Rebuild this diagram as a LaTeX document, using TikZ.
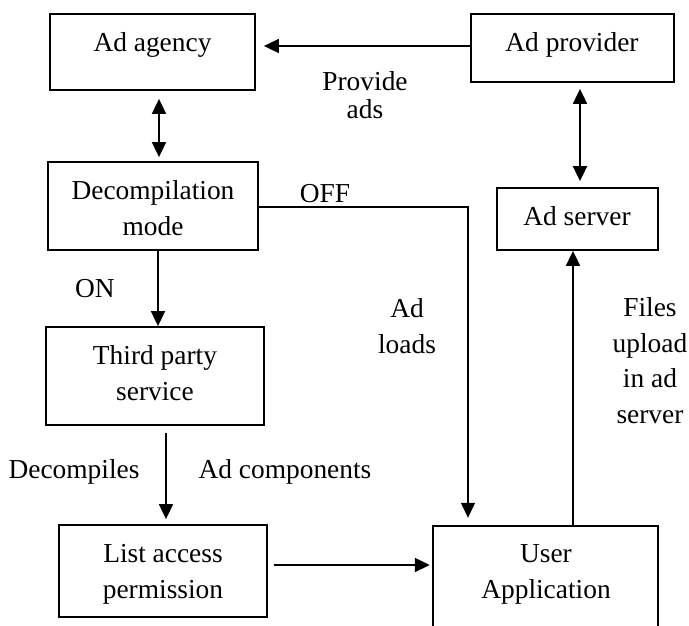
\documentclass[tikz,border=0pt]{standalone}
\usepackage{fontspec}
\setmainfont{Liberation Serif}
\usetikzlibrary{arrows.meta}
\begin{document}
\begin{tikzpicture}[x=1pt,y=-1pt,
  box/.style={draw, line width=1.8pt, inner sep=0pt},
  txt/.style={font=\fontsize{27.4}{35.5}\selectfont, inner sep=0pt, anchor=base, align=center},
  tip/.style={Triangle[length=15pt,width=14pt]},
  conn/.style={line width=1.8pt, -{Triangle[length=15pt,width=14pt]}},
  dconn/.style={line width=1.8pt, {Triangle[length=15pt,width=14pt]}-{Triangle[length=15pt,width=14pt]}},
  offline/.style={line width=1.3pt, -{Triangle[length=15pt,width=14pt]}}]
\useasboundingbox (0,0) rectangle (689,626);
% boxes
\node[box, minimum width=205pt, minimum height=76pt] (agency) at (152.5,52) {};
\node[box, minimum width=203pt, minimum height=68pt] (provider) at (572.5,48) {};
\node[box, minimum width=210pt, minimum height=88pt] (decomp) at (153,206) {};
\node[box, minimum width=161pt, minimum height=62pt] (server) at (577.5,219) {};
\node[box, minimum width=218pt, minimum height=98pt] (third) at (155,376) {};
\node[box, minimum width=208pt, minimum height=92pt] (list) at (163,571) {};
\node[minimum width=225pt, minimum height=100pt, inner sep=0pt] (user) at (545.5,576) {};
\draw[line width=1.8pt] (user.south west) -- (user.north west) -- (user.north east) -- (user.south east);
% texts (anchor base = baseline of the last line)
\node[txt] (tAgency) at (152.5,52) {Ad agency};
\node[txt] (tProvider) at (572,52) {Ad provider};
\node[txt, font=\fontsize{27.4}{28}\selectfont] (tProvide) at (365,118) {Provide\\ads};
\node[txt] (tDecomp) at (153,235) {Decompilation\\mode};
\node[txt] (tOff) at (325,202) {OFF};
\node[txt] (tServer) at (577,225) {Ad server};
\node[txt] (tOn) at (95,297) {ON};
\node[txt] (tThird) at (155,400) {Third party\\service};
\node[txt] (tDecompiles) at (74,478) {Decompiles};
\node[txt] (tComp) at (285,478) {Ad components};
\node[txt] (tList) at (163,598) {List access\\permission};
\node[txt] (tLoads) at (407,353) {Ad\\loads};
\node[txt] (tFiles) at (650,423) {Files\\upload\\in ad\\server};
\node[txt] (tUser) at (546,598) {User\\Application};
% connectors
\draw[conn, shorten >=8pt] ([yshift=2pt]provider.west) -- ([yshift=2pt]provider.west -| agency.east);
\draw[dconn, shorten <=8pt, shorten >=4pt] ([xshift=6.5pt]agency.south) -- ([xshift=6.5pt]agency.south |- decomp.north);
\draw[dconn, shorten <=6pt, shorten >=6pt] ([xshift=7.5pt]provider.south) -- ([xshift=7.5pt]provider.south |- server.north);
\draw[conn] ([xshift=5pt]decomp.south) -- ([xshift=5pt]decomp.south |- third.north);
\draw[conn, shorten <=7pt, shorten >=5pt] ([xshift=11pt]third.south) -- ([xshift=11pt]third.south |- list.north);
\draw[conn, shorten <=6pt, shorten >=3pt] ([yshift=6pt]list.east) -- ([yshift=6pt]list.east -| user.west);
\coordinate (offc) at (468,207);
\draw[offline, shorten >=8pt] (decomp.east |- offc) -- (offc) -- (offc |- user.north);
\draw[conn] ([xshift=27.5pt]user.north) -- ([xshift=27.5pt]user.north |- server.south);
\end{tikzpicture}
\end{document}
